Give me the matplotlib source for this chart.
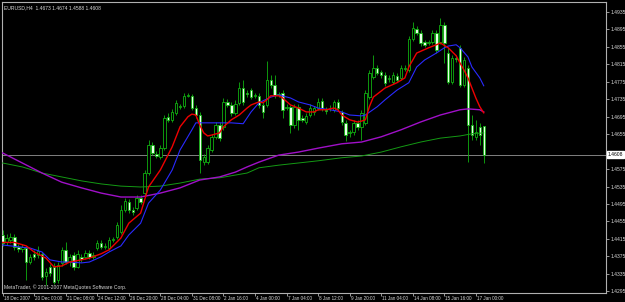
import matplotlib
matplotlib.use("Agg")
import matplotlib.pyplot as plt
import matplotlib.transforms as mtrans
import numpy as np

# EURUSD H4 bars, prices in pips (1/10000)
opens = [14424, 14407, 14412, 14419, 14396, 14391, 14394, 14362, 14381, 14379,
         14381, 14330, 14351, 14351, 14321, 14360, 14390, 14362, 14379, 14351,
         14374, 14374, 14383, 14374, 14394, 14405, 14396, 14394, 14412, 14419,
         14430, 14481, 14499, 14481, 14486, 14509, 14520, 14566, 14631, 14610,
         14603, 14624, 14695, 14688, 14704, 14718, 14720, 14743, 14743, 14715,
         14699, 14591, 14591, 14619, 14649, 14676, 14672, 14729, 14722, 14704,
         14727, 14761, 14749, 14756, 14743, 14743, 14722, 14722, 14779, 14768,
         14745, 14749, 14715, 14718, 14676, 14718, 14693, 14683, 14699, 14706,
         14715, 14731, 14711, 14715, 14711, 14729, 14706, 14681, 14658, 14660,
         14681, 14672, 14681, 14740, 14786, 14807, 14798, 14791, 14782, 14775,
         14789, 14784, 14805, 14802, 14873, 14896, 14887, 14866, 14864, 14866,
         14887, 14866, 14905, 14841, 14775, 14830, 14853, 14768, 14807, 14676,
         14649, 14672, 14673]
highs = [14435, 14426, 14428, 14426, 14403, 14403, 14398, 14381, 14390, 14398,
         14385, 14349, 14358, 14360, 14362, 14396, 14407, 14381, 14385, 14390,
         14381, 14390, 14390, 14385, 14412, 14412, 14405, 14419, 14419, 14453,
         14493, 14509, 14506, 14488, 14516, 14516, 14573, 14642, 14637, 14617,
         14631, 14699, 14704, 14713, 14734, 14725, 14749, 14749, 14747, 14722,
         14706, 14610, 14631, 14656, 14683, 14683, 14738, 14736, 14729, 14734,
         14775, 14779, 14756, 14761, 14749, 14749, 14729, 14823, 14790, 14790,
         14752, 14756, 14725, 14722, 14725, 14725, 14699, 14704, 14725, 14720,
         14738, 14738, 14718, 14722, 14734, 14736, 14711, 14688, 14665, 14688,
         14688, 14711, 14756, 14802, 14837, 14814, 14802, 14798, 14791, 14798,
         14795, 14814, 14814, 14880, 14912, 14903, 14894, 14871, 14871, 14894,
         14894, 14922, 14912, 14853, 14837, 14837, 14860, 14832, 14814, 14699,
         14688, 14681, 14674]
lows = [14398, 14401, 14405, 14390, 14385, 14385, 14321, 14358, 14367, 14372,
        14321, 14310, 14330, 14312, 14314, 14353, 14358, 14353, 14344, 14349,
        14362, 14369, 14369, 14369, 14390, 14391, 14391, 14390, 14407, 14414,
        14426, 14476, 14474, 14470, 14481, 14495, 14513, 14562, 14608, 14601,
        14598, 14619, 14683, 14683, 14699, 14713, 14715, 14740, 14711, 14693,
        14566, 14584, 14587, 14614, 14644, 14640, 14665, 14718, 14697, 14699,
        14722, 14722, 14740, 14736, 14738, 14715, 14693, 14718, 14761, 14738,
        14740, 14693, 14711, 14658, 14669, 14665, 14683, 14679, 14695, 14699,
        14711, 14708, 14701, 14708, 14706, 14711, 14676, 14640, 14649, 14653,
        14665, 14642, 14676, 14736, 14782, 14791, 14784, 14766, 14775, 14770,
        14775, 14779, 14800, 14798, 14869, 14883, 14857, 14855, 14860, 14862,
        14841, 14862, 14818, 14770, 14770, 14820, 14763, 14763, 14591, 14642,
        14642, 14631, 14588]
closes = [14405, 14417, 14419, 14396, 14391, 14396, 14362, 14374, 14374, 14388,
          14328, 14339, 14337, 14316, 14356, 14390, 14362, 14374, 14351, 14381,
          14369, 14383, 14374, 14379, 14405, 14396, 14398, 14412, 14414, 14447,
          14481, 14502, 14481, 14476, 14509, 14499, 14566, 14631, 14612, 14605,
          14624, 14693, 14688, 14706, 14727, 14720, 14743, 14745, 14715, 14699,
          14596, 14603, 14624, 14649, 14676, 14646, 14729, 14722, 14704, 14725,
          14761, 14729, 14747, 14740, 14745, 14722, 14706, 14779, 14768, 14745,
          14747, 14711, 14718, 14676, 14718, 14688, 14688, 14697, 14715, 14715,
          14729, 14715, 14708, 14716, 14729, 14715, 14683, 14653, 14659, 14681,
          14672, 14704, 14749, 14795, 14807, 14795, 14791, 14772, 14784, 14791,
          14779, 14807, 14807, 14873, 14899, 14887, 14864, 14860, 14866, 14887,
          14848, 14905, 14864, 14775, 14830, 14828, 14768, 14825, 14676, 14653,
          14660, 14653, 14608]

# moving averages read at selected bars
red_idx = [0, 3, 6, 8, 11, 13, 15, 17, 20, 22, 25, 27, 30, 32, 35, 37, 40, 43, 45, 47,
           48, 49, 50, 51, 52, 53, 55, 56, 58, 60, 62, 63, 65, 66, 67, 68, 70, 71, 73, 75,
           77, 79, 80, 82, 84, 85, 86, 88, 90, 91, 92, 93, 94, 97, 100, 102, 103, 105, 108, 110,
           111, 113, 115, 116, 117, 118, 119, 120, 121, 122]
red_val = [14407, 14407, 14399, 14385, 14371, 14351, 14353, 14362, 14367, 14371,
           14381, 14390, 14417, 14451, 14474, 14534, 14573, 14626, 14672, 14695,
           14701, 14699, 14676, 14658, 14651, 14653, 14658, 14672, 14688, 14699,
           14715, 14722, 14729, 14727, 14734, 14743, 14743, 14738, 14722, 14715,
           14706, 14706, 14711, 14711, 14715, 14711, 14699, 14688, 14683, 14685,
           14688, 14718, 14740, 14761, 14773, 14784, 14809, 14841, 14853, 14860,
           14864, 14853, 14835, 14818, 14802, 14784, 14761, 14738, 14718, 14704]
blue_idx = [0, 5, 7, 10, 12, 15, 17, 20, 22, 25, 27, 30, 32, 35, 37, 40, 43, 45, 48, 49,
            50, 53, 55, 58, 61, 63, 65, 68, 70, 73, 75, 78, 80, 83, 86, 88, 91, 92, 95, 97,
            100, 103, 105, 107, 110, 112, 113, 115, 116, 118, 119, 121, 122]
blue_val = [14401, 14396, 14394, 14385, 14367, 14362, 14362, 14360, 14362, 14374,
            14385, 14399, 14424, 14451, 14497, 14527, 14573, 14619, 14665, 14681,
            14681, 14681, 14681, 14681, 14679, 14706, 14727, 14740, 14745, 14738,
            14729, 14722, 14715, 14711, 14706, 14699, 14697, 14699, 14718, 14734,
            14756, 14773, 14809, 14825, 14841, 14853, 14857, 14860, 14853, 14832,
            14809, 14784, 14766]
purple_idx = [0, 5, 10, 15, 20, 25, 30, 35, 40, 45, 50, 55, 59, 62, 65, 70, 75, 80, 86, 91,
              96, 101, 106, 111, 116, 118, 121, 122]
purple_val = [14612, 14589, 14566, 14545, 14532, 14520, 14511, 14511, 14520, 14532,
              14550, 14557, 14568, 14580, 14591, 14607, 14614, 14623, 14633, 14637,
              14649, 14665, 14683, 14699, 14711, 14713, 14711, 14706]
green_idx = [0, 5, 10, 15, 20, 25, 30, 35, 40, 45, 50, 55, 62, 65, 70, 75, 80, 86, 91, 96,
             101, 106, 111, 116, 119, 122]
green_val = [14589, 14580, 14566, 14557, 14548, 14541, 14536, 14534, 14536, 14543,
             14552, 14555, 14566, 14578, 14584, 14589, 14594, 14601, 14605, 14614,
             14626, 14637, 14646, 14651, 14656, 14658]

date_pos = [0, 8, 16, 24, 32, 40, 48, 56, 64, 72, 80, 88, 96, 104, 112, 120]
date_labels = ["18 Dec 2007", "20 Dec 00:00", "21 Dec 08:00", "24 Dec 12:00",
               "26 Dec 20:00", "28 Dec 04:00", "31 Dec 08:00", "2 Jan 16:00",
               "4 Jan 00:00", "7 Jan 04:00", "8 Jan 12:00", "9 Jan 20:00",
               "11 Jan 04:00", "14 Jan 08:00", "15 Jan 16:00", "17 Jan 00:00"]
price_ticks = [1.4295 + 0.004 * k for k in range(17)]
last_price = 1.4608

plt.rcParams['font.family'] = 'Liberation Sans'
fs = 3.6
fg = '#d8d8d8'
edge = '#10b010'

o = np.array(opens) / 1e4
h = np.array(highs) / 1e4
l = np.array(lows) / 1e4
c = np.array(closes) / 1e4
idx = np.arange(len(c))
up = c >= o

fig = plt.figure(figsize=(6.25, 3.02), dpi=100, facecolor='black')
ax = fig.add_axes([2 / 625, 9 / 302, 604 / 625, 291 / 302])
ax.set_facecolor('black')

ax.axhline(last_price, color='#808080', lw=0.7, zorder=1)

# candles: wicks, then hollow (up) and filled (down) bodies
ax.vlines(idx, np.minimum(l, np.minimum(o, c)), np.maximum(h, np.maximum(o, c)),
          color=edge, lw=0.6, zorder=2)
body_lo = np.minimum(o, c)
body_h = np.maximum(np.abs(c - o), 0.00006)
ax.bar(idx[up], body_h[up], bottom=body_lo[up], width=0.62, color='black',
       edgecolor=edge, linewidth=0.6, zorder=3)
ax.bar(idx[~up], body_h[~up], bottom=body_lo[~up], width=0.62, color='#e8ffe8',
       edgecolor=edge, linewidth=0.6, zorder=3)

ax.plot(green_idx, np.array(green_val) / 1e4, color='#149a14', lw=0.7, zorder=4)
ax.plot(purple_idx, np.array(purple_val) / 1e4, color='#a010c8', lw=1.0, zorder=4)
ax.plot(blue_idx, np.array(blue_val) / 1e4, color='#2a2aff', lw=0.8, zorder=5)
ax.plot(red_idx, np.array(red_val) / 1e4, color='#ee0000', lw=1.0, zorder=6)

ax.set_xlim(-0.15, 153.0)
ax.set_ylim(1.4291, 1.4958)

for s in ax.spines.values():
    s.set_color('#b0b0b0')
    s.set_linewidth(0.8)

ax.yaxis.tick_right()
ax.set_yticks(price_ticks)
# the tick hidden under the current price label is left blank
ax.set_yticklabels(['' if abs(p - last_price) < 0.001 else '%.4f' % p for p in price_ticks])
ax.tick_params(axis='y', colors='#b0b0b0', labelcolor=fg, labelsize=fs,
               length=2, width=0.6, pad=1)
ax.set_xticks(date_pos)
ax.set_xticklabels(date_labels, ha='left')
ax.tick_params(axis='x', colors='#b0b0b0', labelcolor=fg, labelsize=3.3,
               length=2, width=0.6, pad=0.5)
offset = mtrans.ScaledTranslation(1 / 100, 0, fig.dpi_scale_trans)
for t in ax.get_xticklabels():
    t.set_transform(t.get_transform() + offset)

ax.text(1.003, last_price, '%.4f' % last_price, transform=ax.get_yaxis_transform(),
        fontsize=fs, color='black', va='center', ha='left', zorder=10, clip_on=False,
        bbox=dict(boxstyle='square,pad=0.15', fc='white', ec='white'))

ax.text(0.003, 0.988, 'EURUSD,H4  1.4673 1.4674 1.4588 1.4608', transform=ax.transAxes,
        fontsize=fs, color=fg, va='top', ha='left')
ax.text(0.004, 0.012, 'MetaTrader, \u00a9 2001-2007 MetaQuotes Software Corp.',
        transform=ax.transAxes, fontsize=fs, color=fg, va='bottom', ha='left')

fig.savefig('out.png', dpi=100, facecolor='black')
